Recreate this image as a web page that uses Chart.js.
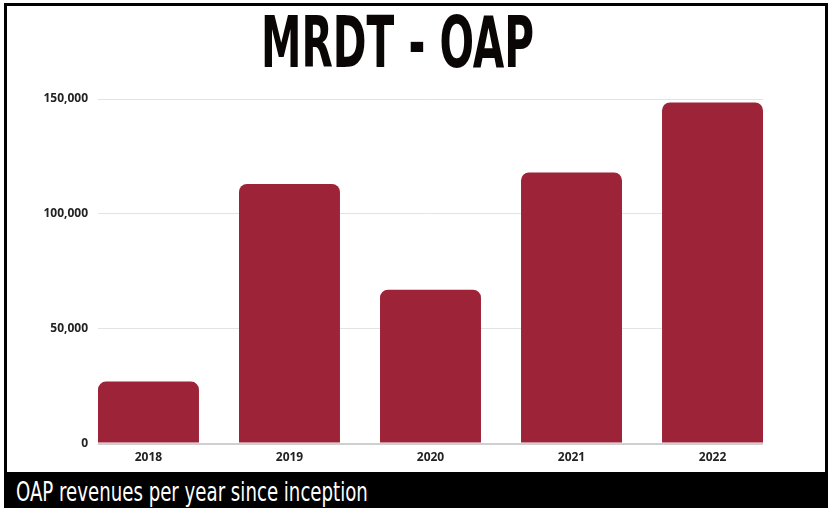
<!DOCTYPE html>
<html lang="en">
<head>
<meta charset="UTF-8">
<title>MRDT - OAP</title>
<script src="https://cdn.jsdelivr.net/npm/chart.js"></script>
<style>
    body { margin: 0; width: 833px; height: 508px; background: #fff; position: relative; overflow: hidden; }
    .frame { position: absolute; left: 4px; top: 3px; width: 824px; height: 505px; background: #000; }
    .inner { position: absolute; left: 3px; top: 3px; width: 818px; height: 466px; background: #fff; }
    .fit { position: absolute; white-space: nowrap; display: inline-block; transform-origin: 0 0; line-height: 1; }
    #title { font-family: "DejaVu Sans Condensed", "DejaVu Sans", sans-serif; font-weight: bold; font-size: 76px; color: #0a0606; }
    #caption { font-family: "DejaVu Sans Condensed", "DejaVu Sans", sans-serif; font-size: 23px; color: #fff; }
    #oapChart { position: absolute; left: 0; top: 0; }
</style>
</head>
<body>
<div class="frame"><div class="inner"></div></div>
<div id="title" class="fit">MRDT - OAP</div>
<div id="caption" class="fit">OAP revenues per year since inception</div>
<canvas id="oapChart" width="833" height="508"></canvas>

<script>
const years = [2018, 2019, 2020, 2021, 2022];
const revenues = [27000, 113000, 67000, 118000, 148500];
const yTicks = [0, 50000, 100000, 150000];

// squeeze text horizontally to look like the condensed poster font
function fitText(id, left, top, width, height) {
    const el = document.getElementById(id);
    const w = el.offsetWidth, h = el.offsetHeight;
    el.style.left = left + 'px';
    el.style.top = top + 'px';
    el.style.transform = 'scale(' + (width / w) + ',' + (height / h) + ')';
}
fitText('title', 261, 6, 273, 72);
fitText('caption', 16, 480, 352, 26);

// bars sit on a linear x axis so the plot (and gridlines) end flush with the outer bars
const half = 0.358;

new Chart(document.getElementById('oapChart'), {
    type: 'bar',
    data: {
        datasets: [{
            data: years.map((yr, i) => ({ x: yr, y: revenues[i] })),
            backgroundColor: '#9c2338',
            borderRadius: { topLeft: 8, topRight: 8 },
            borderSkipped: 'bottom',
            categoryPercentage: 1,
            barPercentage: 0.716
        }]
    },
    options: {
        responsive: false,
        animation: false,
        devicePixelRatio: 1,
        layout: { padding: { left: 8, right: 70, top: 99, bottom: 36 } },
        plugins: { legend: { display: false }, tooltip: { enabled: false } },
        scales: {
            x: {
                type: 'linear',
                offset: false,
                min: years[0] - half,
                max: years[years.length - 1] + half,
                afterBuildTicks: s => { s.ticks = years.map(v => ({ value: v })); },
                grid: { display: false, drawTicks: false },
                border: { display: false },
                ticks: {
                    color: '#222',
                    padding: 7,
                    font: { family: 'Open Sans', weight: 'bold', size: 12 },
                    callback: v => String(v)
                }
            },
            y: {
                min: 0,
                max: 150000,
                afterFit: s => { s.width = 90; },
                afterBuildTicks: s => { s.ticks = yTicks.map(v => ({ value: v })); },
                grid: {
                    drawTicks: false,
                    color: c => c.tick && c.tick.value === 0 ? '#cfcfcf' : '#e3e3e3',
                    lineWidth: c => c.tick && c.tick.value === 0 ? 2 : 1
                },
                border: { display: false },
                ticks: {
                    color: '#222',
                    padding: 10,
                    font: { family: 'Open Sans', weight: 'bold', size: 12 },
                    callback: v => v.toLocaleString('en-US')
                }
            }
        }
    }
});
</script>
</body>
</html>
